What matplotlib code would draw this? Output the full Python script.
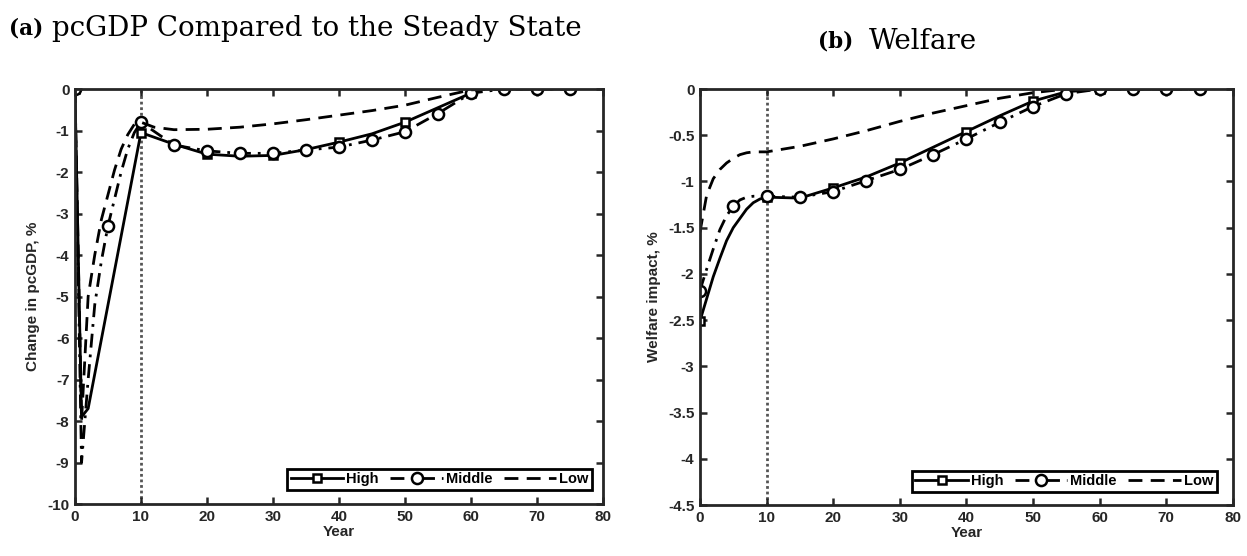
import numpy as np
import matplotlib
matplotlib.use("Agg")
from matplotlib import pyplot as plt

plt.rcParams['font.family'] = ['Liberation Sans', 'DejaVu Sans']
plt.rcParams['axes.unicode_minus'] = False

# panel (a): change in pcGDP, %
gdp_high_year = [0, 1, 2, 10, 15, 20, 25, 30, 35, 40, 45, 50, 55, 60, 62, 65, 70, 75]
gdp_high = [0, -7.9, -7.7, -1.05, -1.33, -1.57, -1.62, -1.6, -1.46, -1.28, -1.08,
            -0.8, -0.45, -0.1, 0, 0, 0, 0]
gdp_mid_year = [0, 1, 2, 3, 4, 5, 6, 7, 8, 9, 10, 15, 20, 25, 30, 35, 40, 45, 50,
                55, 60, 65, 70, 75]
gdp_mid = [0, -9.0, -7.0, -5.2, -4.15, -3.3, -2.65, -2.0, -1.45, -1.05, -0.8, -1.35,
           -1.49, -1.55, -1.55, -1.47, -1.4, -1.23, -1.03, -0.59, -0.1, 0, 0, 0]
gdp_low_year = [0, 1, 2, 3, 4, 5, 6, 7, 8, 9, 10, 12, 15, 20, 25, 30, 35, 40, 45,
                50, 55, 60, 65, 70, 75]
gdp_low = [0, -8.0, -5.0, -4.0, -3.15, -2.55, -1.95, -1.45, -1.1, -0.85, -0.8, -0.92,
           -0.98, -0.97, -0.92, -0.84, -0.74, -0.63, -0.52, -0.39, -0.2, -0.02, 0, 0, 0]

# panel (b): welfare impact, %
wel_year = [0, 1, 2, 3, 4, 5, 6, 7, 8, 9, 10, 15, 20, 25, 30, 35, 40, 45, 50, 55,
            60, 65, 70, 75]
wel_high = [-2.51, -2.27, -2.03, -1.83, -1.64, -1.5, -1.4, -1.3, -1.23, -1.19, -1.17,
            -1.18, -1.07, -0.95, -0.8, -0.63, -0.46, -0.29, -0.13, -0.03, 0, 0, 0, 0]
wel_mid = [-2.18, -1.95, -1.73, -1.52, -1.37, -1.27, -1.2, -1.17, -1.16, -1.16, -1.16,
           -1.17, -1.11, -0.99, -0.87, -0.71, -0.54, -0.36, -0.19, -0.05, 0, 0, 0, 0]
wel_low = [-1.55, -1.15, -0.97, -0.87, -0.8, -0.75, -0.71, -0.69, -0.68, -0.68, -0.68,
           -0.62, -0.54, -0.45, -0.35, -0.26, -0.18, -0.1, -0.04, 0, 0, 0, 0, 0]

labels = ['High', 'Middle', 'Low']
ax_col = '#262626'


def marks(years, step, last=80):
    return [i for i, y in enumerate(years) if y % step == 0 and y <= last]


def panel(ax, hy, h, my, m, ly, l, ylim, yticks, ylabel, leg_anchor):
    ax.axvline(10, color='#555555', ls=(0, (1, 1)), lw=2, zorder=1)
    ax.plot(hy, h, color='k', lw=2, ls='-', marker='s', ms=6, mfc='white',
            mew=1.8, markevery=marks(hy, 10, 60), label=labels[0])
    ax.plot(my, m, color='k', lw=2, ls=(0, (5, 2.5, 1, 2.5)), marker='o', ms=8,
            mfc='white', mew=1.8, markevery=marks(my, 5), label=labels[1])
    ax.plot(ly, l, color='k', lw=2, ls=(0, (5, 3)), label=labels[2])
    ax.set_xlim(0, 80)
    ax.set_ylim(*ylim)
    ax.set_xticks(range(0, 81, 10))
    ax.set_yticks(yticks)
    ax.set_yticklabels(['%g' % abs(t) if t == 0 else '%g' % t for t in yticks])
    ax.tick_params(direction='in', top=True, right=True, length=5, width=1.8,
                   labelsize=11, colors=ax_col, pad=4)
    for t in ax.get_xticklabels() + ax.get_yticklabels():
        t.set_fontweight('bold')
    for s in ax.spines.values():
        s.set_linewidth(2)
        s.set_color(ax_col)
    ax.set_xlabel('Year', fontsize=11, fontweight='bold', color=ax_col, labelpad=1)
    ax.set_ylabel(ylabel, fontsize=11, fontweight='bold', color=ax_col, labelpad=5)
    leg = ax.legend(ncol=3, loc='lower right', bbox_to_anchor=leg_anchor,
                    borderaxespad=0, fancybox=False, edgecolor='k', framealpha=1,
                    handlelength=3.6, handletextpad=0.2, columnspacing=0.8,
                    borderpad=0.25, prop={'weight': 'bold', 'size': 10.5})
    leg.get_frame().set_linewidth(2)


fig = plt.figure(figsize=(12.47, 5.56), dpi=100)
ax1 = fig.add_axes([0.0601, 0.0935, 0.4234, 0.7464])
ax2 = fig.add_axes([0.5613, 0.0917, 0.4274, 0.7482])

panel(ax1, gdp_high_year, gdp_high, gdp_mid_year, gdp_mid, gdp_low_year, gdp_low,
      (-10, 0), list(range(0, -11, -1)), 'Change in pcGDP, %', (0.98, 0.034))
panel(ax2, wel_year, wel_high, wel_year, wel_mid, wel_year, wel_low,
      (-4.5, 0), [-0.5 * k for k in range(10)], 'Welfare impact, %', (0.97, 0.031))

serif = ['DejaVu Serif']
fig.text(0.007, 0.948, '(a)', family=serif, fontweight='bold', fontsize=15.5, va='center')
fig.text(0.042, 0.948, 'pcGDP Compared to the Steady State', family=serif,
         fontsize=20, va='center')
fig.text(0.656, 0.926, '(b)', family=serif, fontweight='bold', fontsize=15.5, va='center')
fig.text(0.697, 0.926, 'Welfare', family=serif, fontsize=20, va='center')

fig.savefig('out.png', dpi=100)
